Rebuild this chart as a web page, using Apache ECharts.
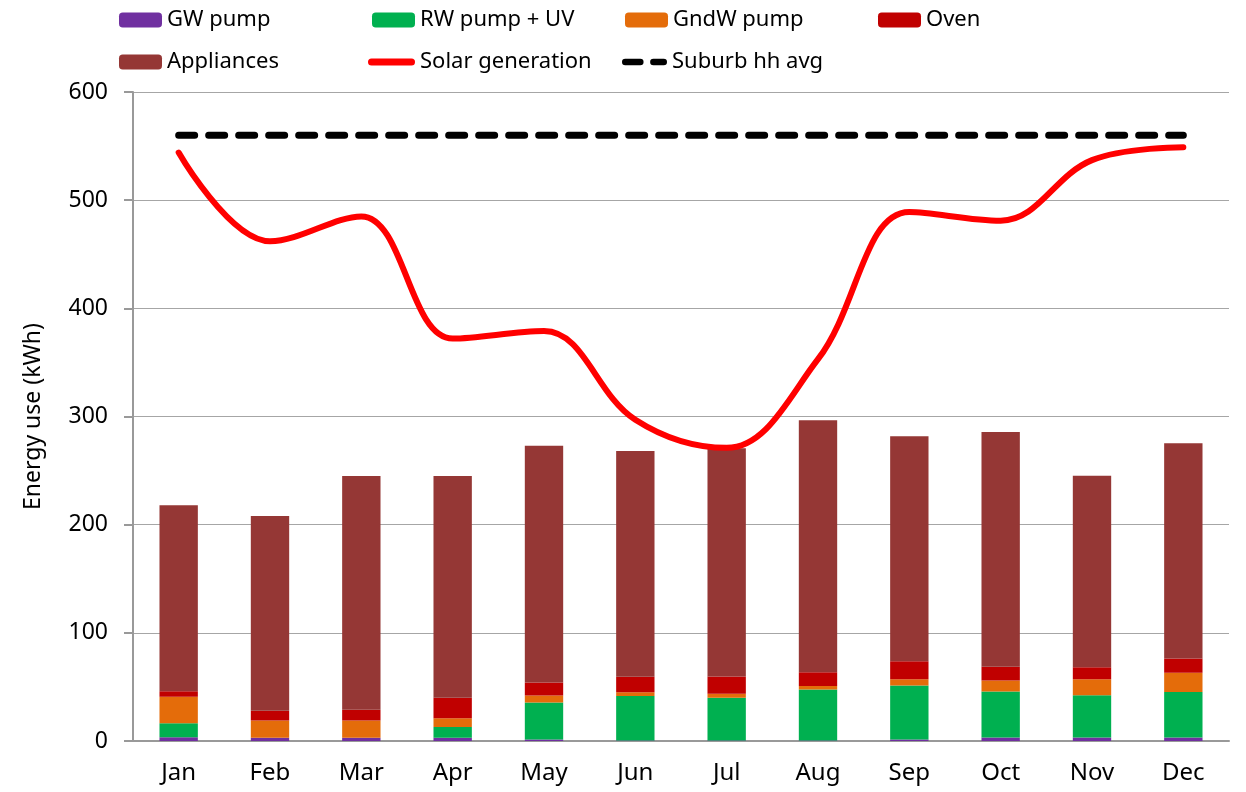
<!DOCTYPE html>
<html>
<head>
<meta charset="utf-8">
<script src="https://cdn.jsdelivr.net/npm/echarts@6/dist/echarts.min.js"></script>
<style>
  html, body { margin: 0; padding: 0; background: #fff; }
  #chart { width: 1246px; height: 792px; }
</style>
</head>
<body>
<div id="chart"></div>
<script>
const months = ['Jan', 'Feb', 'Mar', 'Apr', 'May', 'Jun', 'Jul', 'Aug', 'Sep', 'Oct', 'Nov', 'Dec'];
const gwPump = [3.5, 3, 3, 3, 1.5, 0.5, 0.5, 0.5, 1.4, 3.2, 3.2, 3.2];
const rwPumpUv = [13, 0, 0, 10, 34, 41, 39.5, 47, 50, 42.5, 39, 42];
const gndwPump = [24.5, 16, 16, 8, 6.5, 3.5, 3.7, 3.4, 5.7, 10.3, 15, 18];
const oven = [5, 9, 10, 19, 12, 14.5, 16, 12.7, 16.7, 12.6, 11, 13];
const appliances = [172, 180, 216, 205, 219, 208.5, 211, 233, 208, 217, 177, 199];
const solarGen = [544, 462, 485, 372, 379, 297, 271, 353, 489, 481, 537, 549];
const suburbAvg = [560, 560, 560, 560, 560, 560, 560, 560, 560, 560, 560, 560];

const font = "'Noto Sans', sans-serif";

// pill shaped legend icons for the two lines
const solarIcon = 'path://M3.5,0H43.5A3.5,3.5 0 0 1 43.5,7H3.5A3.5,3.5 0 0 1 3.5,0Z';
const dashIcon = 'path://M3.5,0H19.5A3.5,3.5 0 0 1 19.5,7H3.5A3.5,3.5 0 0 1 3.5,0Z' +
  'M33.5,0H44.5A3.5,3.5 0 0 1 44.5,7H33.5A3.5,3.5 0 0 1 33.5,0Z';

const chart = echarts.init(document.getElementById('chart'));

function bar(name, data, color) {
  return {
    name: name, type: 'bar', stack: 'use', data: data, barWidth: '42%',
    itemStyle: { color: color }
  };
}

function legendItem(name, left, top, icon, w, h) {
  return {
    data: [icon ? { name: name, icon: icon } : name],
    left: left, top: top, padding: 0,
    itemWidth: w || 43, itemHeight: h || 15,
    itemStyle: { borderWidth: 0 },
    lineStyle: { width: 0 },
    textStyle: { fontFamily: font, fontSize: 22, color: '#000' }
  };
}

chart.setOption({
  animation: false,
  legend: [
    legendItem('GW pump', 119, 9),
    legendItem('RW pump + UV', 372, 9),
    legendItem('GndW pump', 625, 9),
    legendItem('Oven', 878, 9),
    legendItem('Appliances', 119, 51),
    legendItem('Solar generation', 368, 51, solarIcon, 47, 7),
    legendItem('Suburb hh avg', 622, 51, dashIcon, 45, 7)
  ],
  grid: { left: 133, right: 17, top: 92, bottom: 51 },
  xAxis: {
    type: 'category', data: months,
    axisLine: { lineStyle: { color: '#999', width: 2 } },
    axisTick: { length: 9, lineStyle: { color: '#999', width: 2 } },
    axisLabel: { fontFamily: font, fontSize: 24, color: '#000', margin: 20 }
  },
  yAxis: {
    type: 'value', min: 0, max: 600, interval: 100,
    name: 'Energy use (kWh)', nameLocation: 'middle', nameGap: 88, nameRotate: 90,
    nameTextStyle: { fontFamily: font, fontSize: 23, color: '#000' },
    axisLine: { show: true, lineStyle: { color: '#999', width: 2 } },
    axisTick: { show: true, length: 9, lineStyle: { color: '#999', width: 2 } },
    axisLabel: { fontFamily: font, fontSize: 23, color: '#000', margin: 25 },
    splitLine: { lineStyle: { color: '#a6a6a6', width: 1 } }
  },
  series: [
    bar('GW pump', gwPump, '#7030A0'),
    bar('RW pump + UV', rwPumpUv, '#00B050'),
    bar('GndW pump', gndwPump, '#E46C0A'),
    bar('Oven', oven, '#C00000'),
    bar('Appliances', appliances, '#953735'),
    {
      name: 'Solar generation', type: 'line', data: solarGen, smooth: 0.38,
      symbol: 'none', lineStyle: { color: '#FF0000', width: 6, cap: 'round' },
      itemStyle: { color: '#FF0000' }
    },
    {
      name: 'Suburb hh avg', type: 'line', data: suburbAvg,
      symbol: 'none', lineStyle: { color: '#000', width: 7, type: [16, 14], cap: 'round' },
      itemStyle: { color: '#000' }
    }
  ]
});
</script>
</body>
</html>
